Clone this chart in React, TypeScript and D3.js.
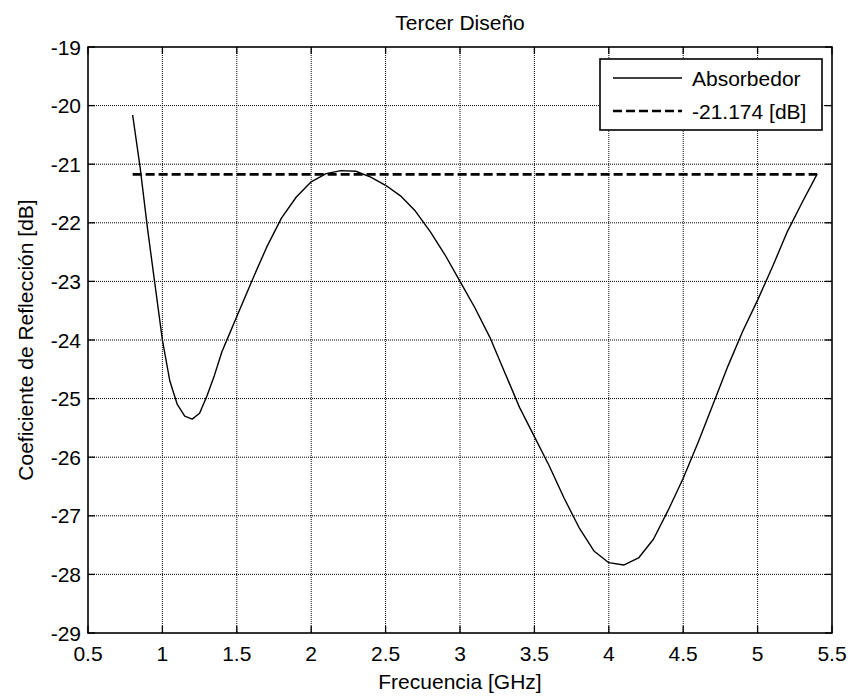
import React from "react";
import * as d3 from "d3";

const freq = [0.8, 0.85, 0.9, 0.95, 1.0, 1.05, 1.1, 1.15, 1.2, 1.25, 1.3, 1.35, 1.4, 1.45, 1.5, 1.6, 1.7, 1.8, 1.9, 2.0, 2.1, 2.2, 2.3, 2.4, 2.5, 2.6, 2.7, 2.8, 2.9, 3.0, 3.1, 3.2, 3.3, 3.4, 3.5, 3.6, 3.7, 3.8, 3.9, 4.0, 4.1, 4.2, 4.3, 4.4, 4.5, 4.6, 4.7, 4.8, 4.9, 5.0, 5.1, 5.2, 5.3, 5.4];
const absorbedor = [-20.16, -21.05, -22.1, -23.05, -24.0, -24.7, -25.1, -25.3, -25.35, -25.25, -24.95, -24.6, -24.2, -23.9, -23.6, -23.0, -22.42, -21.92, -21.56, -21.3, -21.16, -21.11, -21.12, -21.22, -21.36, -21.54, -21.8, -22.15, -22.55, -23.0, -23.45, -23.95, -24.55, -25.15, -25.65, -26.15, -26.7, -27.2, -27.6, -27.8, -27.84, -27.72, -27.4, -26.9, -26.36, -25.75, -25.1, -24.45, -23.85, -23.32, -22.75, -22.15, -21.65, -21.17];
const refLevel = -21.174;
const refRange = [0.8, 5.4];
const xTicks = [0.5, 1, 1.5, 2, 2.5, 3, 3.5, 4, 4.5, 5, 5.5];
const yTicks = [-19, -20, -21, -22, -23, -24, -25, -26, -27, -28, -29];
const legendLabels = ["Absorbedor", "-21.174 [dB]"];

const W = 852, H = 697;
const L = 88, R = 832, T = 47, B = 633;
const FONT = "'Liberation Sans', Arial, Helvetica, sans-serif";
const FS = 21;

export default function App() {
  const x = d3.scaleLinear().domain([0.5, 5.5]).range([L, R]);
  const y = d3.scaleLinear().domain([-29, -19]).range([B, T]);
  const pts = freq.map((f, i) => [f, absorbedor[i]] as [number, number]);
  const line = d3.line<[number, number]>().x(d => x(d[0])).y(d => y(d[1]))(pts) || "";
  const refLine = d3.line<[number, number]>().x(d => x(d[0])).y(d => y(d[1]))(refRange.map(f => [f, refLevel] as [number, number])) || "";
  const tickLen = 7;
  const lg = { x0: 600, x1: 822, y0: 59, y1: 130 };
  return (
    <svg width={W} height={H} style={{ position: "absolute", left: 0, top: 0, background: "#fff" }} fontFamily={FONT}>
      <rect x={0} y={0} width={W} height={H} fill="#fff" />
      {/* grid */}
      {xTicks.slice(1, -1).map(t => (
        <line key={"gx" + t} x1={x(t)} x2={x(t)} y1={T} y2={B} stroke="#000" strokeWidth={1} strokeDasharray="1,1" />
      ))}
      {yTicks.slice(1, -1).map(t => (
        <line key={"gy" + t} x1={L} x2={R} y1={y(t)} y2={y(t)} stroke="#000" strokeWidth={1} strokeDasharray="1,1" />
      ))}
      {/* ticks */}
      {xTicks.map(t => (
        <g key={"tx" + t}>
          <line x1={x(t)} x2={x(t)} y1={B} y2={B - tickLen} stroke="#000" strokeWidth={1.3} />
          <line x1={x(t)} x2={x(t)} y1={T} y2={T + tickLen} stroke="#000" strokeWidth={1.3} />
          <text x={x(t)} y={661} textAnchor="middle" fontSize={FS} fill="#000">{t}</text>
        </g>
      ))}
      {yTicks.map(t => (
        <g key={"ty" + t}>
          <line x1={L} x2={L + tickLen} y1={y(t)} y2={y(t)} stroke="#000" strokeWidth={1.3} />
          <line x1={R} x2={R - tickLen} y1={y(t)} y2={y(t)} stroke="#000" strokeWidth={1.3} />
          <text x={81} y={y(t)} dy="0.36em" textAnchor="end" fontSize={FS} fill="#000">{t}</text>
        </g>
      ))}
      {/* data */}
      <path d={line} fill="none" stroke="#000" strokeWidth={1.4} strokeLinejoin="round" />
      <path d={refLine} fill="none" stroke="#000" strokeWidth={2.6} strokeDasharray="9,4" />
      {/* box */}
      <rect x={L} y={T} width={R - L} height={B - T} fill="none" stroke="#000" strokeWidth={1.6} />
      {/* legend */}
      <rect x={lg.x0} y={lg.y0} width={lg.x1 - lg.x0} height={lg.y1 - lg.y0} fill="#fff" stroke="#000" strokeWidth={1.6} />
      <line x1={613} x2={682} y1={78} y2={78} stroke="#000" strokeWidth={1.4} />
      <line x1={613} x2={682} y1={111} y2={111} stroke="#000" strokeWidth={2.6} strokeDasharray="9,4" />
      <text x={692} y={78} dy="0.36em" fontSize={FS} fill="#000">{legendLabels[0]}</text>
      <text x={692} y={111} dy="0.36em" fontSize={FS} fill="#000">{legendLabels[1]}</text>
      {/* labels */}
      <text x={(L + R) / 2} y={30} textAnchor="middle" fontSize={FS} fill="#000">Tercer Diseño</text>
      <text x={(L + R) / 2} y={689} textAnchor="middle" fontSize={FS} fill="#000">Frecuencia [GHz]</text>
      <text transform={`translate(33,${(T + B) / 2}) rotate(-90)`} textAnchor="middle" fontSize={FS} fill="#000">Coeficiente de Reflección [dB]</text>
    </svg>
  );
}
